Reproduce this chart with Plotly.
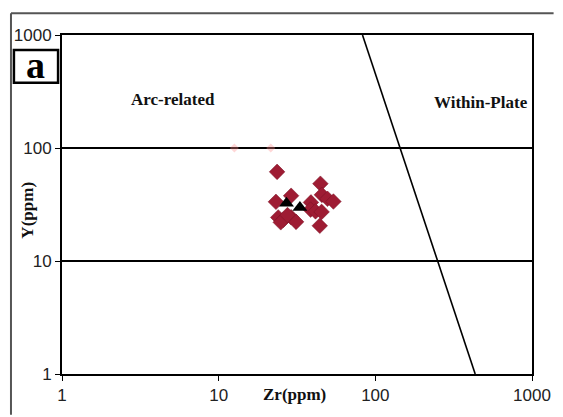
import plotly.graph_objects as go

# Data
diamond_zr = [23.6, 23.2, 29.0, 44.6, 45.6, 49.5, 54.0, 38.8, 38.6, 41.5, 45.4, 44.2, 24.0, 25.9, 29.0, 31.2, 24.9, 27.5]
diamond_y = [61.5, 33.4, 37.8, 48.3, 38.5, 35.5, 33.6, 33.0, 28.5, 27.5, 27.2, 20.5, 24.3, 23.2, 24.4, 22.2, 22.0, 25.5]
triangle_zr = [27.1, 33.0]
triangle_y = [32.5, 29.8]
faint_zr = [12.6, 21.5]
faint_y = [100, 100]
boundary_zr = [82.8, 434]
boundary_y = [1000, 1]
tick_vals = [1, 10, 100, 1000]
tick_text = ["1", "10", "100", "1000"]

W, H = 563, 417
L, R, T, B = 62, 22, 35, 41
pw, ph = W - L - R, H - T - B


def px(x):
    return (x - L) / pw


def py(y):
    return (H - B - y) / ph


fig = go.Figure()
fig.add_trace(go.Scatter(x=boundary_zr, y=boundary_y, mode="lines",
                         line=dict(color="black", width=1.6), showlegend=False, hoverinfo="skip"))
fig.add_trace(go.Scatter(x=faint_zr, y=faint_y, mode="markers",
                         marker=dict(symbol="diamond", size=7, color="rgba(255,140,140,0.35)"),
                         showlegend=False))
fig.add_trace(go.Scatter(x=diamond_zr, y=diamond_y, mode="markers",
                         marker=dict(symbol="diamond", size=12, color="#9E1C33",
                                     line=dict(color="#7A1226", width=0.5)),
                         showlegend=False))
fig.add_trace(go.Scatter(x=triangle_zr, y=triangle_y, mode="markers",
                         marker=dict(symbol="triangle-up", size=13, color="black"),
                         showlegend=False))

axis_common = dict(type="log", range=[0, 3], tickvals=tick_vals, ticktext=tick_text,
                   ticks="outside", ticklen=5, tickwidth=1.2, tickcolor="black",
                   showline=True, linecolor="black", linewidth=2, mirror=True,
                   tickfont=dict(family="Liberation Sans, Arial", size=17, color="#222"),
                   zeroline=False)
fig.update_xaxes(**axis_common, showgrid=False)
fig.update_yaxes(**axis_common, showgrid=True, gridcolor="black", gridwidth=1.6)

serif = "Liberation Serif, Times New Roman"
annotations = [
    dict(text="<b>Zr(ppm)</b>", x=px(299), y=py(397), xref="paper", yref="paper",
         showarrow=False, font=dict(family=serif, size=17, color="#111"), xanchor="center", yanchor="middle"),
    dict(text="<b>Y(ppm)</b>", x=px(27), y=py(211), xref="paper", yref="paper", textangle=-90,
         showarrow=False, font=dict(family=serif, size=17, color="#111"), xanchor="center", yanchor="middle"),
    dict(text="<b>Arc-related</b>", x=px(175), y=py(100), xref="paper", yref="paper",
         showarrow=False, font=dict(family=serif, size=17, color="#111"), xanchor="center", yanchor="middle"),
    dict(text="<b>Within-Plate</b>", x=px(489.5), y=py(103), xref="paper", yref="paper",
         showarrow=False, font=dict(family=serif, size=17, color="#111"), xanchor="center", yanchor="middle"),
    dict(text="<b>a</b>", x=px(35.5), y=py(65.5), xref="paper", yref="paper",
         showarrow=False, font=dict(family=serif, size=38, color="black"), xanchor="center", yanchor="middle"),
]

shapes = [
    # outer frame (top and left)
    dict(type="line", xref="paper", yref="paper", x0=px(10), y0=py(13), x1=px(563), y1=py(13),
         line=dict(color="#555", width=2)),
    dict(type="line", xref="paper", yref="paper", x0=px(10), y0=py(13), x1=px(10), y1=py(417),
         line=dict(color="#555", width=2)),
    # box around panel letter
    dict(type="rect", xref="paper", yref="paper", x0=px(13), y0=py(83), x1=px(58), y1=py(50),
         line=dict(color="black", width=2.5), fillcolor="white"),
]

fig.update_layout(width=W, height=H, margin=dict(l=L, r=R, t=T, b=B),
                  paper_bgcolor="white", plot_bgcolor="white",
                  annotations=annotations, shapes=shapes, showlegend=False)

fig.write_html("out.html")
